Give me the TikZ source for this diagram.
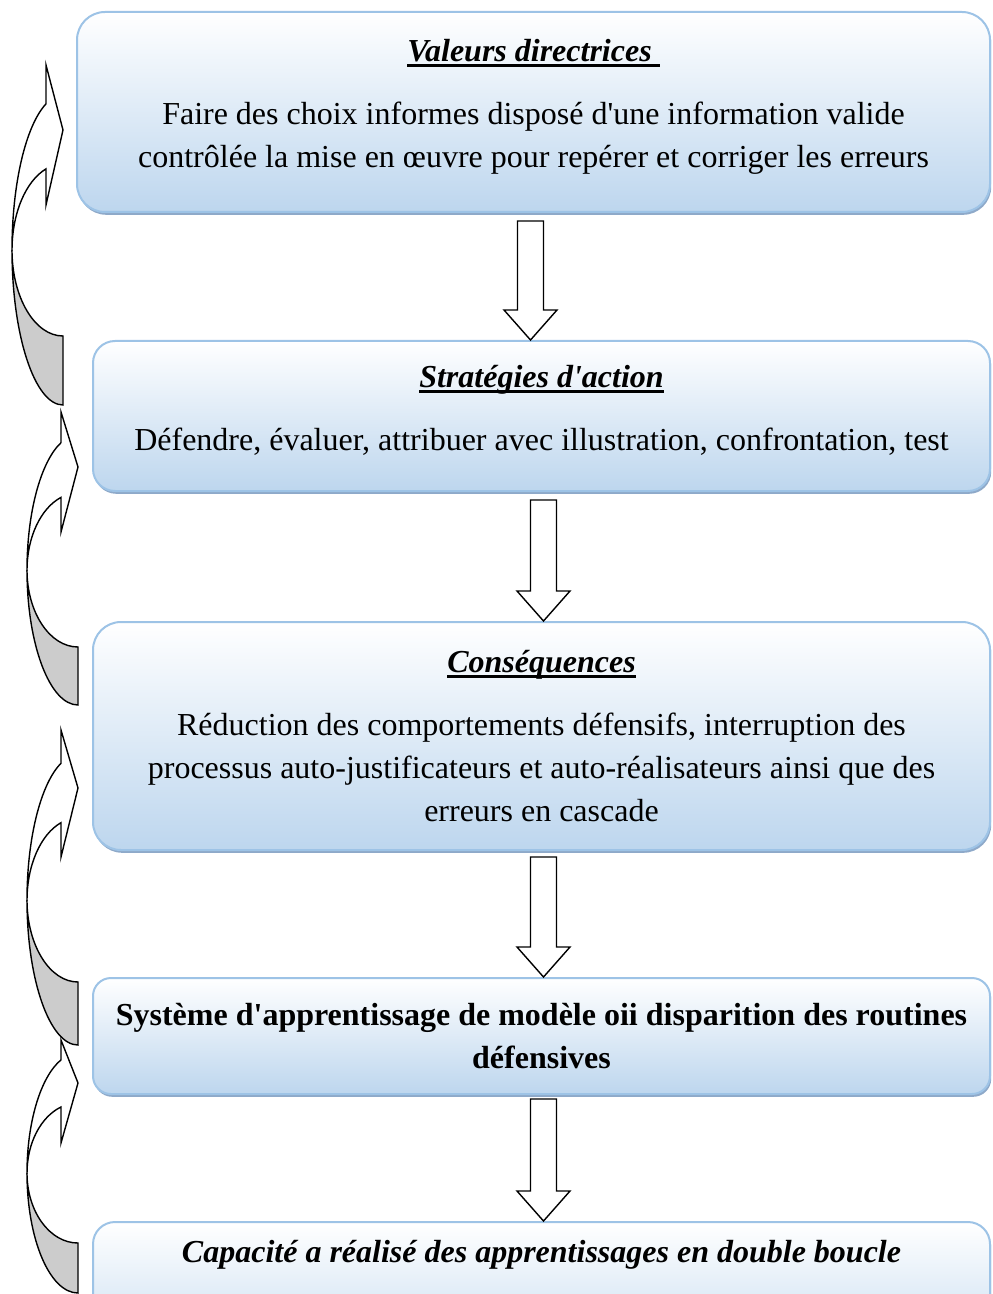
\documentclass[tikz,border=0pt]{standalone}
\usepackage{fontspec}
\setmainfont{Liberation Serif}[Ligatures=TeXOff]
\usetikzlibrary{calc,shadows}

\definecolor{boxblue}{HTML}{BDD6EE}
\definecolor{boxline}{HTML}{9DC3E6}
\definecolor{boxshadow}{HTML}{8EA9C9}
\definecolor{backgray}{HTML}{CCCCCC}

\newcommand{\ulined}[1]{\setbox0\hbox{#1}\rlap{\rule[-2.6pt]{\wd0}{1.2pt}}\box0}
\newcommand{\lift}[1]{\rule[-#1]{0pt}{#1}}

\tikzstyle{stage} = [rectangle, draw=boxline, line width=1pt, top color=white, bottom color=boxblue,
    align=center, font=\fontsize{16}{21.5}\selectfont,
    drop shadow={shadow xshift=0.6pt, shadow yshift=-1.4pt, fill=boxshadow, opacity=1}]
\tikzstyle{flow} = [draw, fill=white, line width=0.7pt,
    to path={let \p1=(\tikztostart), \p2=(\tikztotarget) in
      (\x2-6.5pt,\y1) -- (\x2-6.5pt,\y2+15pt) -- (\x2-13.25pt,\y2+15pt) -- (\x2,\y2)
      -- (\x2+13.25pt,\y2+15pt) -- (\x2+6.5pt,\y2+15pt) -- (\x2+6.5pt,\y1) -- cycle}]
\tikzstyle{backside} = [draw, fill=backgray, line width=0.7pt]
\tikzstyle{frontside} = [draw, fill=white, line width=0.7pt]

% curved arrow: tail x, middle y, outer radius, inner radius, head top, tip, head bottom
\newcommand{\loopback}[7]{%
  \filldraw[backside] (#1,{#2+#3}) arc[start angle=90, end angle=180, x radius=51, y radius=#3]
      arc[start angle=180, end angle=90, x radius=51, y radius=#4] -- cycle;
  \filldraw[frontside] ({#1-51},#2) arc[start angle=180, end angle=250.5, x radius=51, y radius=#3]
      -- ({#1-17},#5) -- (#1,#6) -- ({#1-17},#7) -- ({#1-17},{#2-0.943*#4})
      arc[start angle=250.5, end angle=180, x radius=51, y radius=#4] -- cycle;
}

\begin{document}
\begin{tikzpicture}[x=0.5pt, y=-0.5pt]
\useasboundingbox (0,0) rectangle (992,1294);
\clip (0,0) rectangle (992,1294);

\node[stage, rounded corners=14pt, minimum width=456.5pt, minimum height=100pt] (b1) at (533.5,112)
    {\ulined{\textbf{\textit{Valeurs directrices\ }}}\\[10pt]
     Faire des choix informes disposé d'une information valide\\
     contrôlée la mise en œuvre pour repérer et corriger les erreurs\lift{8.5pt}};
\node[stage, rounded corners=11pt, minimum width=448.5pt, minimum height=75pt] (b2) at (541.5,416)
    {\ulined{\textbf{\textit{Stratégies d'action}}}\\[10pt]
     Défendre, évaluer, attribuer avec illustration, confrontation, test\lift{8pt}};
\node[stage, rounded corners=14pt, minimum width=448.5pt, minimum height=114pt] (b3) at (541.5,736)
    {\ulined{\textbf{\textit{Conséquences}}}\\[10pt]
     Réduction des comportements défensifs, interruption des\\
     processus auto-justificateurs et auto-réalisateurs ainsi que des\\
     erreurs en cascade};
\node[stage, rounded corners=9pt, minimum width=448.5pt, minimum height=58pt] (b4) at (541.5,1036)
    {\textbf{Système d'apprentissage de modèle oii disparition des routines}\\
     \textbf{défensives}};
\node[stage, rounded corners=11pt, minimum width=448.5pt, minimum height=79pt] (b5) at (541.5,1301)
    {\textbf{\textit{Capacité a réalisé des apprentissages en double boucle}}\\ \strut\\ \strut};

\draw[flow] ([xshift=-1.5pt,yshift=-4pt]b1.south) to ([xshift=-5.5pt]b2.north);
\draw[flow] ([xshift=1pt,yshift=-4pt]b2.south) to ([xshift=1pt]b3.north);
\draw[flow] ([xshift=1pt,yshift=-3pt]b3.south) to ([xshift=1pt]b4.north);
\draw[flow] ([xshift=1pt,yshift=-2pt]b4.south) to ([xshift=1pt]b5.north);

\loopback{63}{250}{155}{86}{65}{130}{205}
\loopback{78}{570}{135}{77}{412}{467}{532}
\loopback{78}{900}{145}{82}{730}{788}{857}
\loopback{78}{1173}{120}{70}{1040}{1083}{1143}
\end{tikzpicture}
\end{document}
